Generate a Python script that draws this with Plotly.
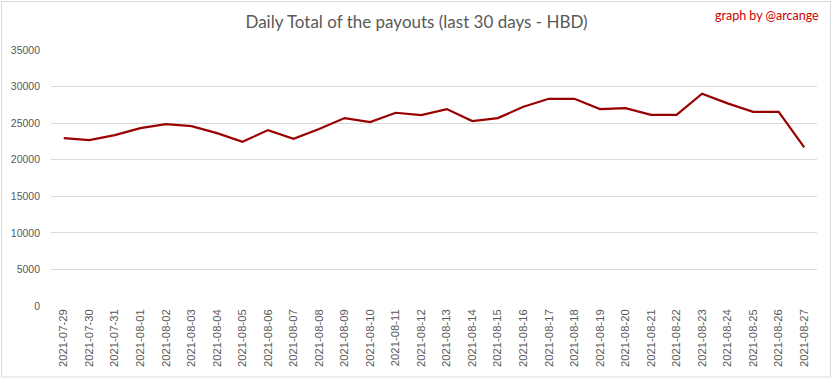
import plotly.graph_objects as go

dates = ["2021-07-29","2021-07-30","2021-07-31","2021-08-01","2021-08-02","2021-08-03",
         "2021-08-04","2021-08-05","2021-08-06","2021-08-07","2021-08-08","2021-08-09",
         "2021-08-10","2021-08-11","2021-08-12","2021-08-13","2021-08-14","2021-08-15",
         "2021-08-16","2021-08-17","2021-08-18","2021-08-19","2021-08-20","2021-08-21",
         "2021-08-22","2021-08-23","2021-08-24","2021-08-25","2021-08-26","2021-08-27"]
payouts = [22950, 22680, 23360, 24320, 24870, 24600, 23640, 22450, 24050, 22860,
           24190, 25690, 25140, 26420, 26100, 26920, 25280, 25690, 27240, 28330,
           28330, 26920, 27060, 26140, 26140, 29020, 27700, 26550, 26550, 21680]
y_ticks = [0, 5000, 10000, 15000, 20000, 25000, 30000, 35000]

W, H = 833, 379
L, R, T, B = 51, 16, 50, 73
pw, ph = W - L - R, H - T - B

fig = go.Figure(go.Scatter(x=dates, y=payouts, mode="lines",
                           line=dict(color="#990000", width=2.2)))

fig.update_layout(
    width=W, height=H,
    margin=dict(l=L, r=R, t=T, b=B, autoexpand=False),
    paper_bgcolor="white", plot_bgcolor="white",
    showlegend=False,
    font=dict(family="Lato", color="#595959"),
    title=dict(text="Daily Total of the payouts (last 30 days - HBD)",
               x=0.5, xanchor="center", xref="container", y=1 - 22 / H, yanchor="middle",
               font=dict(size=17, color="#595959", family="Lato")),
    xaxis=dict(type="category", tickangle=-90, range=[-0.5, len(dates) - 0.5],
               tickfont=dict(size=11.3, color="#595959", family="Liberation Sans"),
               showgrid=False, showline=False, ticks="", zeroline=False, automargin=False),
    yaxis=dict(range=[0, 35000], tickvals=y_ticks, ticktext=[str(v) for v in y_ticks],
               tickfont=dict(size=10.5, color="#595959", family="Liberation Sans"),
               gridcolor="#d9d9d9", gridwidth=1, zeroline=False, showline=False,
               ticks="", ticklabelstandoff=10, automargin=False),
    annotations=[dict(text="graph by @arcange", xref="paper", yref="paper",
                      x=1 + 4 / pw, y=1 + 35 / ph, xanchor="right", yanchor="middle",
                      showarrow=False, font=dict(size=12.5, color="#cc0000", family="Lato"))],
    shapes=[dict(type="rect", xref="paper", yref="paper",
                 x0=-(L - 1.5) / pw, x1=1 + (R - 2.5) / pw,
                 y0=-(B - 2) / ph, y1=1 + (T - 1.5) / ph,
                 line=dict(color="#d9d9d9", width=1))]
)

fig.write_html("out.html", config={"displayModeBar": False},
               post_script="document.body.style.margin='0';")
